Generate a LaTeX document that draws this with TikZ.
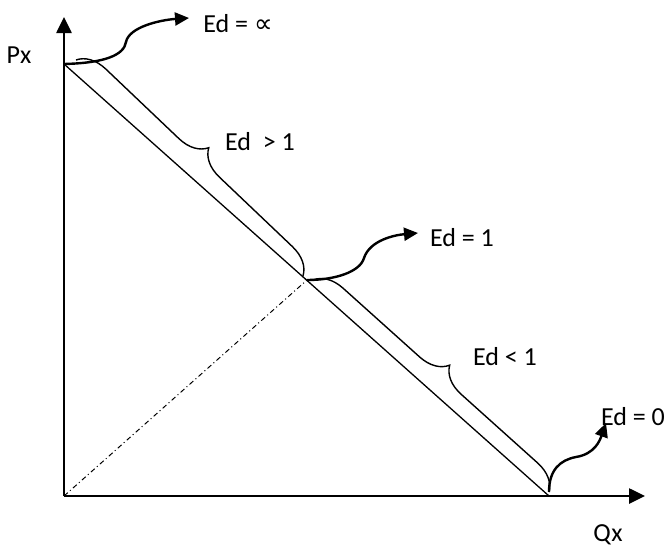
\documentclass[tikz,border=0pt]{standalone}
\usepackage{fontspec}
\setmainfont{Carlito}
\newfontfamily\symfont{DejaVu Sans}
\usetikzlibrary{arrows.meta,decorations.pathreplacing,calc}
\begin{document}
\begin{tikzpicture}[x=1pt,y=-1pt,
  axis/.style={line width=2.6pt,-{Triangle[length=16pt,width=15pt]}},
  demand/.style={line width=1.3pt},
  bracestyle/.style={line width=1.4pt,decorate,decoration={brace,amplitude=28pt,aspect=0.5}},
  curvearrow/.style={line width=2.4pt,-{Triangle[length=14pt,width=13pt]}},
  lbl/.style={font=\fontsize{26}{30}\selectfont,inner sep=0pt}]
\useasboundingbox (0,0) rectangle (666,549);
\coordinate (O) at (64,496);
\coordinate (Ytop) at (64,17);
\coordinate (Xend) at (645,496);
\coordinate (P) at (64,64);
\coordinate (M) at (307,280);
\coordinate (Q) at (549,496);
\coordinate (t1) at (189,18);
\coordinate (t2) at (418,233);
\coordinate (t3) at (606,423);
% axes
\draw[axis] (O) -- (Ytop);
\draw[axis] (O) -- (Xend);
% demand line
\draw[demand] (P) -- (Q);
% dash-dot
\draw[line width=1pt,dash pattern=on 5pt off 3pt on 1pt off 3pt] (O) -- (M);
% braces
\draw[bracestyle] ($(P)+(12,-4)$) -- ($(M)+(-4,-4)$);
\draw[bracestyle] ($(M)+(6,0)$) -- ($(Q)+(0,-4)$);
% curved arrows
\draw[curvearrow] (P) .. controls (105,63) and (124,55) .. (126,42) .. controls (129,27) and (160,20) .. (t1);
\draw[curvearrow] (M) .. controls (335,280) and (360,272) .. (364,258) .. controls (370,240) and (395,235) .. (t2);
\draw[curvearrow] ($(Q)+(0,-4)$) .. controls (549,470) and (560,460) .. (576,457) .. controls (595,454) and (600,440) .. (t3);
% labels
\node[lbl] (einf) at (238,24) {Ed = {\symfont ∝}};
\node[lbl] (egt) at (260,142) {Ed\ \ > 1};
\node[lbl] (eone) at (462,238) {Ed = 1};
\node[lbl] (elt) at (505,357) {Ed < 1};
\node[lbl] (ezero) at (633,417) {Ed = 0};
\node[lbl] (px) at (19,55) {Px};
\node[lbl] (qx) at (608,535) {Qx};
\end{tikzpicture}
\end{document}
